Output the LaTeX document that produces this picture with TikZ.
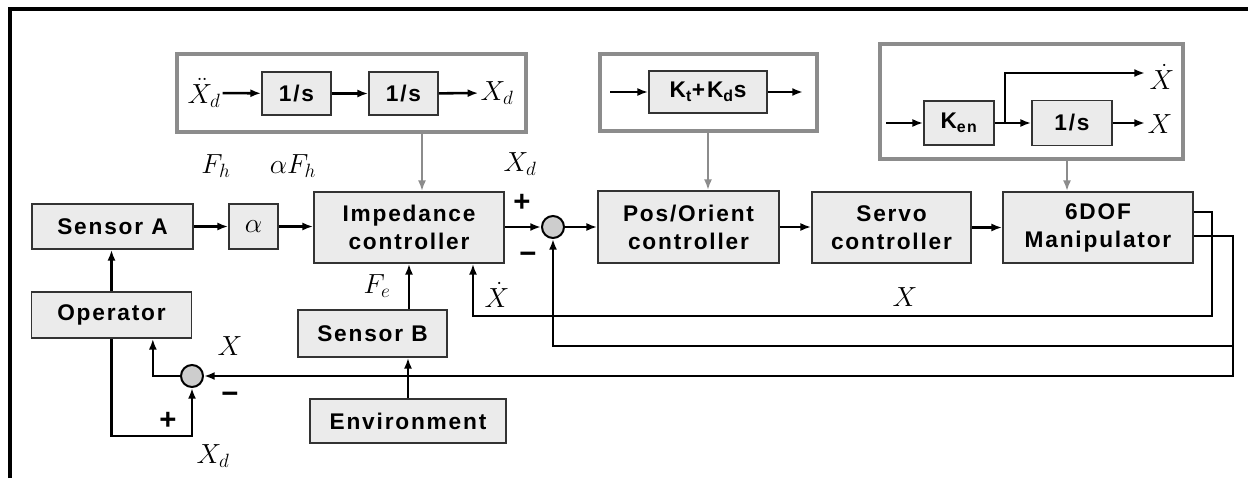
\documentclass[tikz,border=0pt]{standalone}
\usepackage{fontspec}
\usepackage{amsmath}
\setmainfont{Liberation Sans}
\newfontfamily\blkfont{Liberation Sans}[LetterSpace=8]
\usetikzlibrary{arrows.meta,calc}
\definecolor{blkfill}{HTML}{EBEBEB}
\definecolor{sumfill}{HTML}{CDCDCD}
\definecolor{grpline}{HTML}{8C8C8C}
\tikzset{
  blk/.style={draw=black!80, fill=blkfill, line width=1.3pt, inner sep=0pt, align=center,
    font=\blkfont\bfseries\fontsize{17}{21}\selectfont},
  grp/.style={draw=grpline, line width=2.5pt, inner sep=0pt},
  sumnode/.style={circle, draw=black, fill=sumfill, line width=1.5pt, minimum size=16.5pt, inner sep=0pt},
  arr/.style={-{Latex[length=8pt,width=6pt]}, line width=1.9pt},
  garr/.style={-{Latex[length=8pt,width=6pt]}, draw=grpline, line width=1.8pt},
  lbl/.style={font=\fontsize{20}{22}\selectfont, inner sep=1.5pt},
  sgn/.style={font=\blkfont\bfseries\fontsize{22}{22}\selectfont, inner sep=0pt}
}
\begin{document}
\begin{tikzpicture}[x=0.75pt,y=-0.75pt]
\useasboundingbox (0,0) rectangle (1248,478);
\draw[line width=2.8pt] (10,478) -- (10,9) -- (1248,9);

\node[grp, minimum width=261.75pt, minimum height=58.5pt] (g1) at (351.5,93) {};
\node[blk, minimum width=51.75pt, minimum height=32.25pt] (i1) at (296.5,93.5) {1/s};
\node[blk, minimum width=51.75pt, minimum height=32.25pt] (i2) at (403.5,93.5) {1/s};
\node[lbl] (xdd) at (204,93) {$\ddot{X}_d$};
\node[lbl] (xd) at (497,93) {$X_d$};
\draw[arr] (xdd) -- (i1);
\draw[arr] (i1) -- (i2);
\draw[arr] (i2) -- (xd);

\node[grp, minimum width=162.75pt, minimum height=57.75pt] (g2) at (708.5,92.5) {};
\node[blk, minimum width=88.5pt, minimum height=31.5pt] (kp) at (708,92) {K\textsubscript{t}+K\textsubscript{d}s};
\coordinate (kin) at (610,92);
\coordinate (kout) at (803,92);
\draw[arr] (kin) -- (kp);
\draw[arr] (kp) -- (kout);

\node[grp, minimum width=227.25pt, minimum height=86.25pt] (g3) at (1031.5,101.5) {};
\node[blk, minimum width=52.5pt, minimum height=33pt] (ken) at (959,123) {K\textsubscript{en}};
\node[blk, minimum width=60pt, minimum height=33.75pt] (is) at (1072,123) {1/s};
\coordinate (min) at (886,123);
\coordinate (br) at (1005,123);
\coordinate (vout) at (1145,73);
\coordinate (pout) at (1145,123);
\node[lbl] at (1162,77) {$\dot{X}$};
\node[lbl] at (1160,124) {$X$};
\draw[arr] (min) -- (ken);
\draw[arr] (ken) -- (is);
\draw[arr] (br) |- (vout);
\draw[arr] (is) -- (pout);

\node[blk, minimum width=120.75pt, minimum height=33.75pt] (sensA) at (112.5,226.5) {Sensor A};
\node[blk, minimum width=36.75pt, minimum height=33.75pt, font=\fontsize{20}{22}\selectfont] (alpha) at (253.5,226.5) {$\alpha$};
\node[blk, minimum width=142.5pt, minimum height=53.25pt] (imp) at (409,227.5) {Impedance\\controller};
\node[sumnode] (sum1) at (553,227) {};
\node[blk, minimum width=135.75pt, minimum height=54pt] (pos) at (688.5,227) {Pos/Orient\\controller};
\node[blk, minimum width=119.25pt, minimum height=53.25pt] (servo) at (891.5,227.5) {Servo\\controller};
\node[blk, minimum width=142.5pt, minimum height=53.25pt] (manip) at (1098,227.5) {6DOF\\Manipulator};
\node[blk, minimum width=120pt, minimum height=34.5pt] (oper) at (111.5,315) {Operator};
\node[blk, minimum width=111.75pt, minimum height=35.25pt] (sensB) at (372.5,333.5) {Sensor B};
\node[blk, minimum width=147pt, minimum height=33pt] (env) at (408,421) {Environment};
\node[sumnode] (sum2) at (192,376) {};

\node[lbl] at (216,166) {$F_h$};
\node[lbl] at (293,166) {$\alpha F_h$};
\node[lbl] at (520,164) {$X_d$};
\node[sgn] at (522,203) {+};
\node[sgn] at (528,258) {−};
\node[lbl] at (377,286) {$F_e$};
\node[lbl] at (497,295) {$\dot{X}$};
\node[lbl] at (905,297) {$X$};
\node[lbl] at (230,346) {$X$};
\node[sgn] at (230,398) {−};
\node[sgn] at (168,421) {+};
\node[lbl] at (213,456) {$X_d$};

\draw[arr] (sensA.east) -- (sensA.east -| alpha.west);
\draw[arr] (alpha.east) -- (alpha.east -| imp.west);
\draw[arr] (imp.east |- sum1) -- (sum1.west);
\draw[arr] (sum1.east) -- (sum1.east -| pos.west);
\draw[arr] (pos.east) -- (pos.east -| servo.west);
\draw[arr] (servo.east) -- (servo.east -| manip.west);
\draw[arr] (oper.north) -- (oper.north |- sensA.south);
\draw[arr] (env.north) -- (env.north |- sensB.south);
\draw[arr] (sensB.north -| imp.south) -- (imp.south);

\draw[garr] ([xshift=9.75pt]imp.north |- g1.south) -- ([xshift=9.75pt]imp.north);
\draw[garr] (kp.south |- g2.south) -- (kp.south |- pos.north);
\draw[garr] ([xshift=-3.75pt]is.south |- g3.south) -- ([xshift=-3.75pt]is.south |- manip.north);

\coordinate (fbA) at (1212,316);
\coordinate (fbB) at (1233,376);
\coordinate (fbC) at (1233,346);
\coordinate (lp) at (192,436);
\draw[arr] ([yshift=11.6pt]manip.east) -| (fbA) -| ([xshift=48pt]imp.south);
\draw[arr] ([yshift=-6.4pt]manip.east) -| (fbB) -- (sum2.east);
\draw[arr] (fbC) -| (sum1.south);
\draw[arr] (sum2.west) -| ([xshift=31pt]oper.south);
\draw[arr] (oper.south) |- (lp) -- (sum2.south);

\end{tikzpicture}
\end{document}
